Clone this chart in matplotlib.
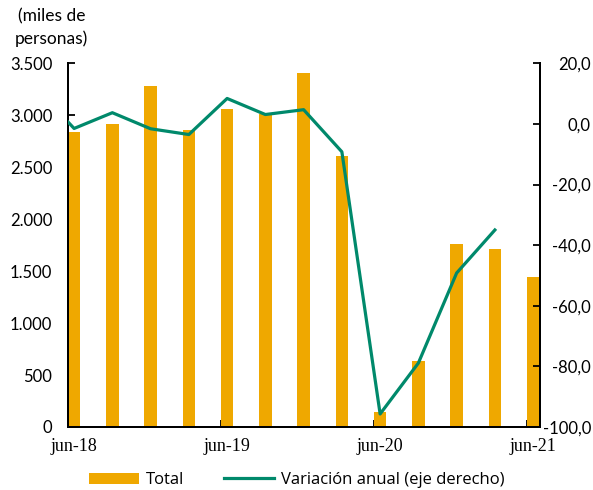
import numpy as np
import matplotlib
matplotlib.use('Agg')
import matplotlib.pyplot as plt
from matplotlib.ticker import FuncFormatter, FixedLocator
from matplotlib.patches import Patch
from matplotlib.lines import Line2D

# quarterly data, x in months from jun-18
meses_total = [0, 3, 6, 9, 12, 15, 18, 21, 24, 27, 30, 33, 36]
total = [2840, 2915, 3280, 2855, 3065, 3010, 3410, 2605, 140, 635, 1765, 1710, 1440]

meses_var = [-3, 0, 3, 6, 9, 12, 15, 18, 21, 24, 27, 30, 33]
variacion = [12.0, -1.5, 3.7, -1.6, -3.5, 8.4, 3.1, 4.7, -9.2, -95.7, -78.9, -49.2, -35.0]

xlabels = ['jun-18', 'jun-19', 'jun-20', 'jun-21']
xlabel_pos = [0, 12, 24, 36]

c_bar = '#EFA800'
c_line = '#00896B'
sans = 'Lato'
serif = 'Liberation Serif'

fig = plt.figure(figsize=(5.93, 4.90), dpi=100)
ax = fig.add_axes([0.1142, 0.1286, 0.9098 - 0.1142, 0.8708 - 0.1286])
ax2 = ax.twinx()

ax.bar(meses_total, total, width=0.97, color=c_bar, zorder=2)
ax2.plot(meses_var, variacion, color=c_line, lw=2.3, zorder=3, clip_on=True)

ax.set_xlim(-0.5, 36.5)
ax.set_ylim(0, 3500)
ax2.set_ylim(-100, 20)

ax.set_yticks(np.arange(0, 3501, 500))
ax.yaxis.set_major_formatter(FuncFormatter(lambda v, p: f'{int(v):,}'.replace(',', '.')))
ax2.set_yticks(np.arange(-100, 21, 20))
ax2.yaxis.set_major_formatter(FuncFormatter(lambda v, p: f'{v:.1f}'.replace('.', ',')))

ax.set_xticks(xlabel_pos)
ax.set_xticklabels(xlabels, fontfamily=serif, fontsize=13)
ax.xaxis.set_minor_locator(FixedLocator([-0.5, 11.5, 23.5, 35.5]))
ax.tick_params(axis='x', which='major', length=0, pad=8)
ax.tick_params(axis='x', which='minor', direction='in', length=5, width=1.3)

ax.tick_params(axis='y', direction='in', length=5, width=1.3, pad=11, labelsize=12)
ax2.tick_params(axis='y', direction='in', length=5, width=1.3, pad=37, labelsize=12)
for t in ax.get_yticklabels():
    t.set_fontfamily(sans)
for t in ax2.get_yticklabels():
    t.set_fontfamily(sans)
    t.set_horizontalalignment('right')

for a in (ax, ax2):
    a.spines['top'].set_visible(False)
    for s in ('left', 'right', 'bottom'):
        a.spines[s].set_linewidth(1.4)
ax.set_zorder(1)
ax2.set_zorder(2)

fig.text(0.087, 0.984, '(miles de\npersonas)', ha='center', va='top',
         fontsize=12.5, fontfamily=sans, linespacing=1.45)

handles = [Patch(facecolor=c_bar, edgecolor='none'),
           Line2D([0], [0], color=c_line, lw=2.3)]
fig.legend(handles, ['Total', 'Variación anual (eje derecho)'],
           loc='lower center', bbox_to_anchor=(0.5, -0.027), ncol=2, frameon=False,
           prop={'family': 'Open Sans', 'size': 12}, handlelength=3.0,
           columnspacing=2.4, handletextpad=0.4)

fig.savefig('out.png', dpi=100)
